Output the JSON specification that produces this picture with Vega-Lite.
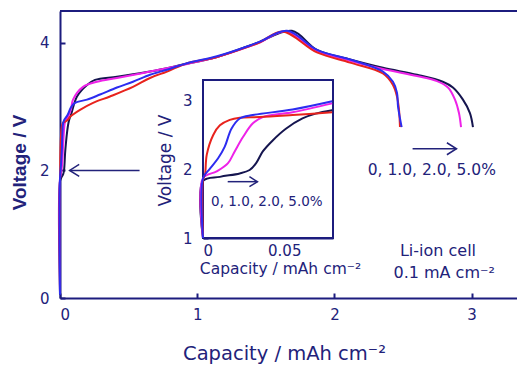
{
  "$schema": "https://vega.github.io/schema/vega-lite/v6.json",
  "width": 457,
  "height": 287,
  "autosize": "none",
  "padding": {"left": 60, "top": 11, "right": 0, "bottom": 67},
  "background": "white",
  "config": {
    "view": {"stroke": null},
    "font": "DejaVu Sans",
    "axis": {
      "grid": false,
      "domainColor": "#1c1c7e",
      "domainWidth": 2,
      "tickColor": "#1c1c7e",
      "tickWidth": 2,
      "tickSize": -5,
      "labelColor": "#22227a",
      "labelFont": "DejaVu Sans",
      "labelFontSize": 15,
      "titleColor": "#22227a",
      "titleFont": "DejaVu Sans",
      "titleFontWeight": "normal"
    }
  },
  "datasets": {
    "main": [
      {"s": "5.0", "i": 0, "x": 0, "v": 0.05},
      {"s": "5.0", "i": 1, "x": 0, "v": 1.83},
      {"s": "5.0", "i": 2, "x": 0.0104, "v": 1.89},
      {"s": "5.0", "i": 3, "x": 0.0226, "v": 1.94},
      {"s": "5.0", "i": 4, "x": 0.0287, "v": 1.99},
      {"s": "5.0", "i": 5, "x": 0.0327, "v": 2.09},
      {"s": "5.0", "i": 6, "x": 0.0368, "v": 2.26},
      {"s": "5.0", "i": 7, "x": 0.0429, "v": 2.42},
      {"s": "5.0", "i": 8, "x": 0.051, "v": 2.59},
      {"s": "5.0", "i": 9, "x": 0.0612, "v": 2.74},
      {"s": "5.0", "i": 10, "x": 0.0693, "v": 2.81},
      {"s": "5.0", "i": 11, "x": 0.08, "v": 2.87},
      {"s": "5.0", "i": 12, "x": 0.124, "v": 3.16},
      {"s": "5.0", "i": 13, "x": 0.197, "v": 3.34},
      {"s": "5.0", "i": 14, "x": 0.255, "v": 3.42},
      {"s": "5.0", "i": 15, "x": 0.415, "v": 3.47},
      {"s": "5.0", "i": 16, "x": 0.656, "v": 3.55},
      {"s": "5.0", "i": 17, "x": 0.896, "v": 3.66},
      {"s": "5.0", "i": 18, "x": 1.144, "v": 3.78},
      {"s": "5.0", "i": 19, "x": 1.385, "v": 3.96},
      {"s": "5.0", "i": 20, "x": 1.458, "v": 4.02},
      {"s": "5.0", "i": 21, "x": 1.69, "v": 4.19},
      {"s": "5.0", "i": 22, "x": 1.873, "v": 3.89},
      {"s": "5.0", "i": 23, "x": 2.114, "v": 3.74},
      {"s": "5.0", "i": 24, "x": 2.354, "v": 3.61},
      {"s": "5.0", "i": 25, "x": 2.602, "v": 3.5},
      {"s": "5.0", "i": 26, "x": 2.79, "v": 3.39},
      {"s": "5.0", "i": 27, "x": 2.864, "v": 3.3},
      {"s": "5.0", "i": 28, "x": 2.937, "v": 3.11},
      {"s": "5.0", "i": 29, "x": 2.988, "v": 2.9},
      {"s": "5.0", "i": 30, "x": 3.01, "v": 2.68},

      {"s": "2.0", "i": 0, "x": 0, "v": 0.1},
      {"s": "2.0", "i": 1, "x": 0, "v": 1.87},
      {"s": "2.0", "i": 2, "x": 0.0084, "v": 1.97},
      {"s": "2.0", "i": 3, "x": 0.0154, "v": 2.09},
      {"s": "2.0", "i": 4, "x": 0.0195, "v": 2.26},
      {"s": "2.0", "i": 5, "x": 0.0246, "v": 2.47},
      {"s": "2.0", "i": 6, "x": 0.0307, "v": 2.67},
      {"s": "2.0", "i": 7, "x": 0.0368, "v": 2.76},
      {"s": "2.0", "i": 8, "x": 0.0551, "v": 2.83},
      {"s": "2.0", "i": 9, "x": 0.08, "v": 2.96},
      {"s": "2.0", "i": 10, "x": 0.095, "v": 3.11},
      {"s": "2.0", "i": 11, "x": 0.168, "v": 3.31},
      {"s": "2.0", "i": 12, "x": 0.27, "v": 3.39},
      {"s": "2.0", "i": 13, "x": 0.415, "v": 3.45},
      {"s": "2.0", "i": 14, "x": 0.656, "v": 3.55},
      {"s": "2.0", "i": 15, "x": 0.926, "v": 3.67},
      {"s": "2.0", "i": 16, "x": 1.144, "v": 3.78},
      {"s": "2.0", "i": 17, "x": 1.385, "v": 3.95},
      {"s": "2.0", "i": 18, "x": 1.458, "v": 4.01},
      {"s": "2.0", "i": 19, "x": 1.64, "v": 4.18},
      {"s": "2.0", "i": 20, "x": 1.873, "v": 3.87},
      {"s": "2.0", "i": 21, "x": 2.114, "v": 3.72},
      {"s": "2.0", "i": 22, "x": 2.354, "v": 3.59},
      {"s": "2.0", "i": 23, "x": 2.602, "v": 3.48},
      {"s": "2.0", "i": 24, "x": 2.748, "v": 3.4},
      {"s": "2.0", "i": 25, "x": 2.828, "v": 3.3},
      {"s": "2.0", "i": 26, "x": 2.879, "v": 3.11},
      {"s": "2.0", "i": 27, "x": 2.908, "v": 2.9},
      {"s": "2.0", "i": 28, "x": 2.923, "v": 2.68},

      {"s": "0", "i": 0, "x": 0, "v": 0.1},
      {"s": "0", "i": 1, "x": 0, "v": 1.85},
      {"s": "0", "i": 2, "x": 0.0012, "v": 1.92},
      {"s": "0", "i": 3, "x": 0.0023, "v": 2.21},
      {"s": "0", "i": 4, "x": 0.0063, "v": 2.5},
      {"s": "0", "i": 5, "x": 0.0104, "v": 2.64},
      {"s": "0", "i": 6, "x": 0.0165, "v": 2.72},
      {"s": "0", "i": 7, "x": 0.0226, "v": 2.75},
      {"s": "0", "i": 8, "x": 0.0348, "v": 2.76},
      {"s": "0", "i": 9, "x": 0.0551, "v": 2.79},
      {"s": "0", "i": 10, "x": 0.073, "v": 2.84},
      {"s": "0", "i": 11, "x": 0.146, "v": 2.95},
      {"s": "0", "i": 12, "x": 0.241, "v": 3.06},
      {"s": "0", "i": 13, "x": 0.364, "v": 3.16},
      {"s": "0", "i": 14, "x": 0.532, "v": 3.31},
      {"s": "0", "i": 15, "x": 0.656, "v": 3.45},
      {"s": "0", "i": 16, "x": 0.78, "v": 3.55},
      {"s": "0", "i": 17, "x": 0.926, "v": 3.68},
      {"s": "0", "i": 18, "x": 1.144, "v": 3.78},
      {"s": "0", "i": 19, "x": 1.385, "v": 3.95},
      {"s": "0", "i": 20, "x": 1.458, "v": 4.01},
      {"s": "0", "i": 21, "x": 1.62, "v": 4.18},
      {"s": "0", "i": 22, "x": 1.873, "v": 3.85},
      {"s": "0", "i": 23, "x": 2.114, "v": 3.69},
      {"s": "0", "i": 24, "x": 2.354, "v": 3.52},
      {"s": "0", "i": 25, "x": 2.427, "v": 3.34},
      {"s": "0", "i": 26, "x": 2.456, "v": 3.16},
      {"s": "0", "i": 27, "x": 2.471, "v": 2.95},
      {"s": "0", "i": 28, "x": 2.478, "v": 2.68},

      {"s": "1.0", "i": 0, "x": 0, "v": 0.05},
      {"s": "1.0", "i": 1, "x": 0, "v": 1.87},
      {"s": "1.0", "i": 2, "x": 0.0043, "v": 2.01},
      {"s": "1.0", "i": 3, "x": 0.0093, "v": 2.16},
      {"s": "1.0", "i": 4, "x": 0.0134, "v": 2.33},
      {"s": "1.0", "i": 5, "x": 0.0175, "v": 2.59},
      {"s": "1.0", "i": 6, "x": 0.0226, "v": 2.74},
      {"s": "1.0", "i": 7, "x": 0.0307, "v": 2.79},
      {"s": "1.0", "i": 8, "x": 0.0551, "v": 2.87},
      {"s": "1.0", "i": 9, "x": 0.08, "v": 2.99},
      {"s": "1.0", "i": 10, "x": 0.109, "v": 3.06},
      {"s": "1.0", "i": 11, "x": 0.197, "v": 3.11},
      {"s": "1.0", "i": 12, "x": 0.292, "v": 3.19},
      {"s": "1.0", "i": 13, "x": 0.415, "v": 3.3},
      {"s": "1.0", "i": 14, "x": 0.532, "v": 3.39},
      {"s": "1.0", "i": 15, "x": 0.656, "v": 3.5},
      {"s": "1.0", "i": 16, "x": 0.78, "v": 3.58},
      {"s": "1.0", "i": 17, "x": 0.926, "v": 3.68},
      {"s": "1.0", "i": 18, "x": 1.144, "v": 3.79},
      {"s": "1.0", "i": 19, "x": 1.385, "v": 3.96},
      {"s": "1.0", "i": 20, "x": 1.458, "v": 4.02},
      {"s": "1.0", "i": 21, "x": 1.655, "v": 4.19},
      {"s": "1.0", "i": 22, "x": 1.873, "v": 3.89},
      {"s": "1.0", "i": 23, "x": 2.114, "v": 3.74},
      {"s": "1.0", "i": 24, "x": 2.354, "v": 3.55},
      {"s": "1.0", "i": 25, "x": 2.427, "v": 3.39},
      {"s": "1.0", "i": 26, "x": 2.456, "v": 3.22},
      {"s": "1.0", "i": 27, "x": 2.464, "v": 3.0},
      {"s": "1.0", "i": 28, "x": 2.49, "v": 2.68}
    ],
    "inset": [
      {"s": "5.0", "i": 0, "x": 0, "v": 1.0},
      {"s": "5.0", "i": 1, "x": 0, "v": 1.83},
      {"s": "5.0", "i": 2, "x": 0.0104, "v": 1.89},
      {"s": "5.0", "i": 3, "x": 0.0226, "v": 1.94},
      {"s": "5.0", "i": 4, "x": 0.0287, "v": 1.99},
      {"s": "5.0", "i": 5, "x": 0.0327, "v": 2.09},
      {"s": "5.0", "i": 6, "x": 0.0368, "v": 2.26},
      {"s": "5.0", "i": 7, "x": 0.0429, "v": 2.42},
      {"s": "5.0", "i": 8, "x": 0.051, "v": 2.59},
      {"s": "5.0", "i": 9, "x": 0.0612, "v": 2.74},
      {"s": "5.0", "i": 10, "x": 0.0693, "v": 2.81},
      {"s": "5.0", "i": 11, "x": 0.0795, "v": 2.86},

      {"s": "2.0", "i": 0, "x": 0, "v": 1.0},
      {"s": "2.0", "i": 1, "x": 0, "v": 1.87},
      {"s": "2.0", "i": 2, "x": 0.0084, "v": 1.97},
      {"s": "2.0", "i": 3, "x": 0.0154, "v": 2.09},
      {"s": "2.0", "i": 4, "x": 0.0195, "v": 2.26},
      {"s": "2.0", "i": 5, "x": 0.0246, "v": 2.47},
      {"s": "2.0", "i": 6, "x": 0.0307, "v": 2.67},
      {"s": "2.0", "i": 7, "x": 0.0368, "v": 2.76},
      {"s": "2.0", "i": 8, "x": 0.0551, "v": 2.83},
      {"s": "2.0", "i": 9, "x": 0.0795, "v": 2.96},

      {"s": "0", "i": 0, "x": 0, "v": 1.0},
      {"s": "0", "i": 1, "x": 0, "v": 1.85},
      {"s": "0", "i": 2, "x": 0.0012, "v": 1.92},
      {"s": "0", "i": 3, "x": 0.0023, "v": 2.21},
      {"s": "0", "i": 4, "x": 0.0063, "v": 2.5},
      {"s": "0", "i": 5, "x": 0.0104, "v": 2.64},
      {"s": "0", "i": 6, "x": 0.0165, "v": 2.72},
      {"s": "0", "i": 7, "x": 0.0226, "v": 2.75},
      {"s": "0", "i": 8, "x": 0.0348, "v": 2.76},
      {"s": "0", "i": 9, "x": 0.0551, "v": 2.79},
      {"s": "0", "i": 10, "x": 0.0795, "v": 2.83},

      {"s": "1.0", "i": 0, "x": 0, "v": 1.0},
      {"s": "1.0", "i": 1, "x": 0, "v": 1.87},
      {"s": "1.0", "i": 2, "x": 0.0043, "v": 2.01},
      {"s": "1.0", "i": 3, "x": 0.0093, "v": 2.16},
      {"s": "1.0", "i": 4, "x": 0.0134, "v": 2.33},
      {"s": "1.0", "i": 5, "x": 0.0175, "v": 2.59},
      {"s": "1.0", "i": 6, "x": 0.0226, "v": 2.74},
      {"s": "1.0", "i": 7, "x": 0.0307, "v": 2.79},
      {"s": "1.0", "i": 8, "x": 0.0551, "v": 2.87},
      {"s": "1.0", "i": 9, "x": 0.0795, "v": 2.99}
    ]
  },
  "layer": [
    {
      "layer": [
        {
          "data": {"name": "main"},
          "mark": {"type": "line", "strokeWidth": 2, "interpolate": "catmull-rom"},
          "encoding": {
            "x": {
              "field": "x", "type": "quantitative",
              "scale": {"domain": [0, 3.331], "nice": false, "zero": false},
              "axis": {
                "values": [0, 1, 2, 3], "format": "d",
                "title": "Capacity / mAh cm⁻²",
                "titleFontSize": 19.5,
                "titleX": 224, "titleY": 55,
                "titleAlign": "center", "titleBaseline": "middle",
                "labelPadding": 14
              }
            },
            "y": {
              "field": "v", "type": "quantitative",
              "scale": {"domain": [0, 4.5], "nice": false},
              "axis": {
                "values": [0, 2, 4], "format": "d",
                "title": "Voltage / V",
                "titleFont": "Liberation Sans",
                "titleFontWeight": "bold",
                "titleFontSize": 19,
                "titleX": -41, "titleY": 151,
                "titleAlign": "center", "titleBaseline": "middle",
                "labelPadding": 16
              }
            },
            "color": {
              "field": "s", "type": "nominal",
              "scale": {"domain": ["0", "1.0", "2.0", "5.0"], "range": ["#e8231d", "#2c2cf0", "#ee22e8", "#15154f"]},
              "legend": null
            },
            "order": {"field": "i", "type": "quantitative"}
          }
        },
        {
          "data": {"values": [{}]},
          "mark": {"type": "rule", "color": "#1c1c7e", "strokeWidth": 2},
          "encoding": {"y": {"datum": 4.5}}
        },
        {
          "data": {"values": [{}]},
          "mark": {"type": "rule", "color": "#22227a", "strokeWidth": 1.5},
          "encoding": {"x": {"datum": 0.07}, "x2": {"datum": 0.58}, "y": {"datum": 2.0}}
        },
        {
          "data": {"values": [{}]},
          "mark": {"type": "point", "shape": "M1.6,-1L0,0L1.6,1", "filled": false, "size": 144, "stroke": "#22227a", "strokeWidth": 1.5, "opacity": 1},
          "encoding": {"x": {"datum": 0.07}, "y": {"datum": 2.0}}
        },
        {
          "data": {"values": [{}]},
          "mark": {"type": "rule", "color": "#22227a", "strokeWidth": 1.5},
          "encoding": {"x": {"datum": 2.57}, "x2": {"datum": 2.89}, "y": {"datum": 2.34}}
        },
        {
          "data": {"values": [{}]},
          "mark": {"type": "point", "shape": "M-1.6,-1L0,0L-1.6,1", "filled": false, "size": 144, "stroke": "#22227a", "strokeWidth": 1.5, "opacity": 1},
          "encoding": {"x": {"datum": 2.89}, "y": {"datum": 2.34}}
        },
        {
          "data": {"values": [{}]},
          "mark": {"type": "text", "font": "DejaVu Sans", "fontSize": 15.5, "color": "#22227a", "align": "center", "baseline": "middle"},
          "encoding": {"x": {"datum": 2.71}, "y": {"datum": 2.01}, "text": {"value": "0, 1.0,  2.0, 5.0%"}}
        },
        {
          "data": {"values": [{}]},
          "mark": {"type": "text", "font": "DejaVu Sans", "fontSize": 16, "color": "#22227a", "align": "center", "baseline": "middle"},
          "encoding": {"x": {"datum": 2.755}, "y": {"datum": 0.74}, "text": {"value": "Li-ion cell"}}
        },
        {
          "data": {"values": [{}]},
          "mark": {"type": "text", "font": "DejaVu Sans", "fontSize": 16, "color": "#22227a", "align": "center", "baseline": "middle"},
          "encoding": {"x": {"datum": 2.8}, "y": {"datum": 0.39}, "text": {"value": "0.1 mA cm⁻²"}}
        }
      ]
    },
    {
      "layer": [
        {
          "data": {"values": [{}]},
          "mark": {"type": "rect", "fill": "white", "stroke": "#1c1c7e", "strokeWidth": 2},
          "encoding": {
            "x": {
              "datum": 0, "type": "quantitative",
              "scale": {"domain": [0, 0.08], "range": [143, 273], "nice": false, "zero": false},
              "axis": {
                "orient": "bottom", "offset": -60,
                "values": [0, 0.05],
                "labelExpr": "datum.value == 0 ? '0' : format(datum.value, '.2f')",
                "title": "Capacity / mAh cm⁻²",
                "titleFontSize": 15.5,
                "titleX": 220, "titleY": 30,
                "titleAlign": "center", "titleBaseline": "middle",
                "labelPadding": 10
              }
            },
            "x2": {"datum": 0.08},
            "y": {
              "datum": 1, "type": "quantitative",
              "scale": {"domain": [1, 3.3], "range": [227, 69], "nice": false, "zero": false},
              "axis": {
                "orient": "left", "offset": -143,
                "values": [1, 2, 3], "format": "d",
                "title": "Voltage / V",
                "titleFontSize": 17,
                "titleX": -38, "titleY": 149,
                "titleAlign": "center", "titleBaseline": "middle",
                "labelPadding": 16
              }
            },
            "y2": {"datum": 3.3}
          }
        },
        {
          "data": {"name": "inset"},
          "mark": {"type": "line", "strokeWidth": 2, "interpolate": "catmull-rom"},
          "encoding": {
            "x": {"field": "x", "type": "quantitative"},
            "y": {"field": "v", "type": "quantitative"},
            "color": {"field": "s", "type": "nominal", "legend": null},
            "order": {"field": "i", "type": "quantitative"}
          }
        },
        {
          "data": {"values": [{}]},
          "mark": {"type": "rule", "color": "#22227a", "strokeWidth": 1.5},
          "encoding": {"x": {"datum": 0.0152}, "x2": {"datum": 0.0335}, "y": {"datum": 1.82}}
        },
        {
          "data": {"values": [{}]},
          "mark": {"type": "point", "shape": "M-1.6,-1L0,0L-1.6,1", "filled": false, "size": 100, "stroke": "#22227a", "strokeWidth": 1.5, "opacity": 1},
          "encoding": {"x": {"datum": 0.0335}, "y": {"datum": 1.82}}
        },
        {
          "data": {"values": [{}]},
          "mark": {"type": "text", "font": "DejaVu Sans", "fontSize": 13.5, "color": "#22227a", "align": "center", "baseline": "middle"},
          "encoding": {"x": {"datum": 0.0393}, "y": {"datum": 1.53}, "text": {"value": "0, 1.0,  2.0, 5.0%"}}
        }
      ]
    }
  ],
  "resolve": {
    "scale": {"x": "independent", "y": "independent"},
    "axis": {"x": "independent", "y": "independent"}
  }
}
